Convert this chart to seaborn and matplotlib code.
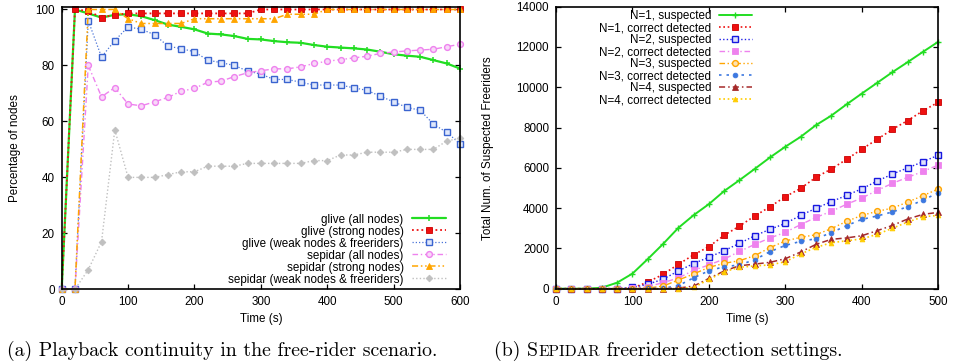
import matplotlib
matplotlib.use("Agg")
import matplotlib.pyplot as plt
import pandas as pd
import seaborn as sns

# ---------------- (a) playback continuity ----------------
time_a = list(range(0, 601, 20))
glive_all = [0, 100, 98.6, 97.1, 98.1, 98.3, 97.6, 96.2, 94.6, 93.8, 92.9, 91.4, 91.1, 90.5,
             89.5, 89.3, 88.7, 88.3, 88.1, 87.3, 86.7, 86.4, 86.1, 85.7, 84.9, 84.0, 83.5,
             83.1, 81.9, 80.7, 78.9]
glive_strong = [0, 100, 99.5, 97.1, 98.1, 98.6, 98.6, 98.6, 98.6, 98.6, 98.6, 98.6, 98.6,
                98.6, 98.6, 100, 100, 100, 100, 100, 100, 100, 100, 100, 100, 100, 100, 100,
                100, 100, 100]
glive_weak = [0, 0, 96, 83, 88.9, 93.8, 92.9, 91, 86.9, 86, 84.9, 81.9, 81, 80, 78, 76.9, 75,
              75, 74, 73, 73, 73, 72, 71.1, 69, 67, 65, 64, 59, 56.1, 52]
sepidar_all = [0, 0, 80, 68.8, 72.1, 66.2, 65.6, 67, 68.6, 70.8, 71.8, 74, 74.4, 76, 77.4,
               78.1, 78.8, 78.8, 79.5, 80.7, 81.5, 82.1, 82.7, 83.3, 84.3, 84.8, 85.2, 85.5,
               85.8, 86.7, 87.6]
sepidar_strong = [0, 0, 100, 100, 100, 96.7, 95, 95, 95, 95, 96.7, 96.7, 96.7, 96.7, 96.7,
                  96.7, 96.7, 98.3, 98.3, 98.3, 100, 100, 100, 100, 100, 100, 100, 100, 100,
                  100, 100]
sepidar_weak = [0, 0, 7, 17, 57, 40, 40, 40, 41, 42, 42, 44, 44, 44, 45, 45, 45, 45, 45, 46,
                46, 48, 48, 49, 49, 49, 50, 50, 50, 53, 54]
labels_a = ["glive (all nodes)", "glive (strong nodes)", "glive (weak nodes & freeriders)",
            "sepidar (all nodes)", "sepidar (strong nodes)", "sepidar (weak nodes & freeriders)"]

# ---------------- (b) freerider detection ----------------
time_b = list(range(0, 501, 20))
n1_susp = [0, 0, 0, 50, 300, 750, 1470, 2220, 3020, 3650, 4200, 4850, 5390, 5950, 6520, 7050,
           7540, 8120, 8590, 9150, 9690, 10220, 10750, 11250, 11760, 12260]
n1_corr = [0, 0, 0, 0, 0, 30, 330, 710, 1210, 1680, 2090, 2650, 3110, 3610, 4070, 4570, 4980,
           5530, 5940, 6420, 6930, 7410, 7910, 8350, 8830, 9260]
n2_susp = [0, 0, 0, 0, 0, 60, 220, 470, 880, 1250, 1560, 1890, 2250, 2630, 2950, 3240, 3640,
           3990, 4320, 4630, 4960, 5340, 5690, 6000, 6300, 6630]
n2_corr = [0, 0, 0, 0, 0, 10, 100, 300, 530, 910, 1180, 1470, 1850, 2200, 2520, 2800, 3180,
           3540, 3840, 4190, 4500, 4880, 5230, 5530, 5820, 6140]
n3_susp = [0, 0, 0, 0, 0, 0, 30, 130, 430, 730, 1060, 1260, 1390, 1640, 2040, 2370, 2550, 2680,
           2980, 3340, 3640, 3840, 4000, 4300, 4620, 4950]
n3_corr = [0, 0, 0, 0, 0, 0, 10, 30, 150, 540, 890, 1090, 1180, 1440, 1840, 2150, 2350, 2480,
           2780, 3130, 3440, 3610, 3810, 4070, 4400, 4760]
n4_susp = [0, 0, 0, 0, 0, 0, 0, 0, 30, 130, 510, 880, 1140, 1220, 1310, 1490, 1820, 2200, 2450,
           2520, 2630, 2880, 3140, 3460, 3690, 3790]
n4_corr = [0, 0, 0, 0, 0, 0, 0, 0, 0, 60, 460, 840, 1060, 1130, 1180, 1340, 1720, 2050, 2280,
           2380, 2470, 2700, 3000, 3310, 3570, 3640]
labels_b = ["N=1, suspected", "N=1, correct detected", "N=2, suspected", "N=2, correct detected",
            "N=3, suspected", "N=3, correct detected", "N=4, suspected", "N=4, correct detected"]

df_a = pd.DataFrame({"time": time_a, labels_a[0]: glive_all, labels_a[1]: glive_strong,
                     labels_a[2]: glive_weak, labels_a[3]: sepidar_all,
                     labels_a[4]: sepidar_strong, labels_a[5]: sepidar_weak})
df_b = pd.DataFrame({"time": time_b, labels_b[0]: n1_susp, labels_b[1]: n1_corr,
                     labels_b[2]: n2_susp, labels_b[3]: n2_corr, labels_b[4]: n3_susp,
                     labels_b[5]: n3_corr, labels_b[6]: n4_susp, labels_b[7]: n4_corr})

# gnuplot-like line styles
DOT = (0, (1, 1.6))
DASHDOT = (0, (4, 2, 1, 2))
DASHDOTDOT = (0, (4, 1.8, 1, 1.8, 1, 1.8))
styles_a = [
    dict(color="#22dd22", linestyle="-", linewidth=1.6, marker="+", markersize=5,
         markeredgecolor="#22dd22", markeredgewidth=1.1),
    dict(color="#ee1111", linestyle=DOT, linewidth=1.3, marker="s", markersize=3.8,
         markerfacecolor="#ee1111", markeredgecolor="#cc0000", markeredgewidth=0.6),
    dict(color="#4a74d8", linestyle=DOT, linewidth=0.9, marker="s", markersize=4,
         markerfacecolor="#dfe7fb", markeredgecolor="#3a64d0", markeredgewidth=1.0),
    dict(color="#ee82ee", linestyle=DASHDOT, linewidth=1.0, marker="o", markersize=4.2,
         markerfacecolor="#f8d8f8", markeredgecolor="#ee82ee", markeredgewidth=1.0),
    dict(color="#ffa500", linestyle=DASHDOTDOT, linewidth=1.1, marker="^", markersize=4.8,
         markerfacecolor="#ffa500", markeredgecolor="#ffa500", markeredgewidth=0.6),
    dict(color="#c0c0c0", linestyle=DOT, linewidth=1.0, marker="D", markersize=3.4,
         markerfacecolor="#c0c0c0", markeredgecolor="#c0c0c0", markeredgewidth=0.6),
]
styles_b = [
    dict(color="#22dd22", linestyle="-", linewidth=1.4, marker="+", markersize=4.5,
         markeredgecolor="#22dd22", markeredgewidth=1.0),
    dict(color="#ee1111", linestyle=DOT, linewidth=1.2, marker="s", markersize=3.8,
         markerfacecolor="#ee1111", markeredgecolor="#cc0000", markeredgewidth=0.6),
    dict(color="#2020e8", linestyle=DOT, linewidth=1.0, marker="s", markersize=4.2,
         markerfacecolor="#dde0fb", markeredgecolor="#1818e0", markeredgewidth=1.0),
    dict(color="#ee82ee", linestyle=DASHDOT, linewidth=1.0, marker="s", markersize=4,
         markerfacecolor="#ee82ee", markeredgecolor="#ee82ee", markeredgewidth=0.6),
    dict(color="#ffa500", linestyle=DASHDOTDOT, linewidth=1.0, marker="o", markersize=4.2,
         markerfacecolor="#ffe2b0", markeredgecolor="#ffa500", markeredgewidth=1.0),
    dict(color="#3c78e0", linestyle=(0, (1.5, 3)), linewidth=1.2, marker="o", markersize=3.4,
         markerfacecolor="#3c78e0", markeredgecolor="#3c78e0", markeredgewidth=0.6),
    dict(color="#a52a2a", linestyle=DASHDOT, linewidth=1.1, marker="^", markersize=4.3,
         markerfacecolor="#a52a2a", markeredgecolor="#a52a2a", markeredgewidth=0.6),
    dict(color="#ffcc00", linestyle=DOT, linewidth=1.2, marker="^", markersize=3.4,
         markerfacecolor="#ffcc00", markeredgecolor="#ffcc00", markeredgewidth=0.6),
]

sns.set_theme(style="ticks")
plt.rcParams["font.family"] = ["Liberation Sans", "DejaVu Sans"]
FS = 8.4
plt.rcParams.update({
    "font.size": FS,
    "axes.linewidth": 1.2,
    "axes.edgecolor": "black",
    "xtick.direction": "in", "ytick.direction": "in",
    "xtick.top": True, "ytick.right": True,
    "xtick.major.size": 3.5, "ytick.major.size": 3.5,
    "xtick.major.width": 0.9, "ytick.major.width": 0.9,
    "xtick.major.pad": 5, "ytick.major.pad": 5,
    "xtick.labelsize": FS, "ytick.labelsize": FS,
    "xtick.color": "black", "ytick.color": "black",
    "text.color": "black", "axes.labelcolor": "black",
})

fig = plt.figure(figsize=(9.55, 3.64), dpi=100)
ax1 = fig.add_axes([0.0646, 0.2052, 0.4171, 0.7764])
ax2 = fig.add_axes([0.5822, 0.2069, 0.4003, 0.7747])

for lab, st in zip(labels_a, styles_a):
    sns.lineplot(data=df_a, x="time", y=lab, ax=ax1, label=lab, clip_on=False, **st)
for lab, st in zip(labels_b, styles_b):
    sns.lineplot(data=df_b, x="time", y=lab, ax=ax2, label=lab, clip_on=False, **st)

ax1.set_xlim(0, 600)
ax1.set_ylim(0, 101)
ax1.set_xticks(range(0, 601, 100))
ax1.set_yticks(range(0, 101, 20))
ax1.set_xlabel("Time (s)", fontsize=FS)
ax1.set_ylabel("Percentage of nodes", fontsize=FS)
ax1.xaxis.set_label_coords(0.5, -0.085)
ax1.yaxis.set_label_coords(-0.102, 0.5)

ax2.set_xlim(0, 500)
ax2.set_ylim(0, 14000)
ax2.set_xticks(range(0, 501, 100))
ax2.set_yticks(range(0, 14001, 2000))
ax2.set_xlabel("Time (s)", fontsize=FS)
ax2.set_ylabel("Total Num. of Suspected Freeriders", fontsize=FS)
ax2.xaxis.set_label_coords(0.5, -0.085)
ax2.yaxis.set_label_coords(-0.162, 0.5)

for ax in (ax1, ax2):
    for sp in ax.spines.values():
        sp.set_visible(True)
        sp.set_zorder(5)

W, H = 955.0, 364.0
leg_kw = dict(frameon=False, markerfirst=False, borderpad=0, borderaxespad=0,
              handlelength=2.85, labelspacing=0.0, fontsize=FS, numpoints=1)
ax1.legend(loc="lower right", bbox_to_anchor=(445.5 / W, 1 - 285.5 / H),
           bbox_transform=fig.transFigure, handletextpad=0.75, **leg_kw)
ax2.legend(loc="upper right", bbox_to_anchor=(752 / W, 1 - 10.5 / H),
           bbox_transform=fig.transFigure, handletextpad=0.65, **leg_kw)

# sub-figure captions (Computer Modern, with small caps for the system name)
CAP = 14.3
cap_font = ["cmr10", "DejaVu Serif"]
fig.canvas.draw()
renderer = fig.canvas.get_renderer()


def caption(x_px, parts):
    x = x_px
    for txt, size in parts:
        t = fig.text(x / W, 1 - 356 / H, txt, fontsize=size, family=cap_font,
                     ha="left", va="baseline")
        bb = t.get_window_extent(renderer)
        x += bb.width
    return x


caption(7, [("(a) Playback continuity in the free-rider scenario.", CAP)])
caption(494, [("(b) ", CAP), ("S", CAP), ("EPIDAR", CAP * 0.78),
              (" freerider detection settings.", CAP)])

fig.savefig("out.png", dpi=100)
